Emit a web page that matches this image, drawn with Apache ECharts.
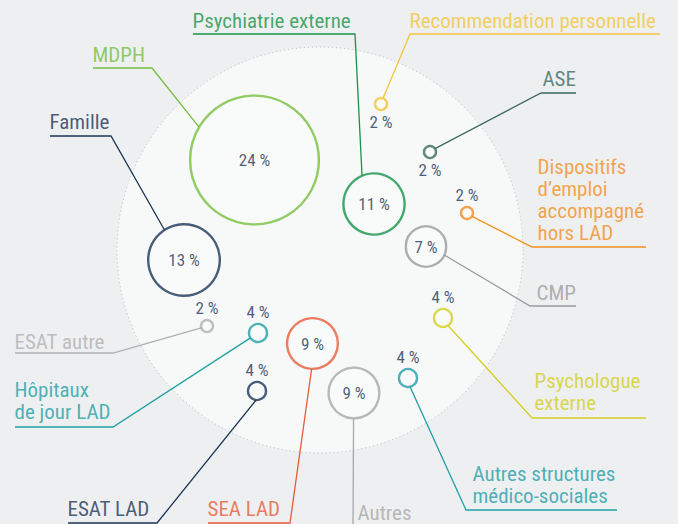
<!DOCTYPE html>
<html><head><meta charset="utf-8">
<script src="https://cdn.jsdelivr.net/npm/echarts@6/dist/echarts.min.js"></script>
<style>html,body{margin:0;padding:0;background:#eeeff1;}#c{width:678px;height:524px;}</style>
</head><body><div id="c"></div>
<script>
// ---- data ----
const categories = ['MDPH', 'Famille', 'Psychiatrie externe', 'CMP', 'Recommendation personnelle', 'ASE',
  'Dispositifs\nd’emploi\naccompagné\nhors LAD', 'ESAT autre', 'Hôpitaux\nde jour LAD', 'ESAT LAD', 'SEA LAD',
  'Autres', 'Psychologue\nexterne', 'Autres structures\nmédico-sociales'];
const values = [24, 13, 11, 7, 2, 2, 2, 2, 4, 4, 9, 9, 4, 4];

// ---- layout (packed-bubble placement, annotation geometry) ----
const bubbleX = [254.5, 184, 374, 426, 381, 430, 467, 207, 258, 257, 312.5, 354, 443, 408];
const bubbleY = [160, 260, 204, 246.5, 104, 152, 213, 326, 333, 391, 343.5, 393, 318, 378];
const pctPos = ['inside','inside','inside','inside','bottom','bottom','top','top','top','top','inside','inside','top','top'];
const textX = [93, 50, 193, 537, 410, 543, 538, 15, 15, 68, 208, 358, 535, 473];
const textBase = [62, 129, 28, 300, 28, 86, 240, 349, 419, 516, 516, 520, 410, 503];
const lineY = [68, 136, 34, 306, 34, 93, 247, 353, 427, 523, 523, 532, 418, 510];
const lineX0 = [93, 50, 193, 530, 410, 541, 532, 15, 15, 68, 208, 353, 532, 466];
const lineX1 = [152, 111, 355, 576, 660, 576, 646, 113, 113, 157, 290, 420, 646, 617];
const cornerLeft = [false, false, false, true, true, true, true, false, false, false, false, true, true, true];
const anchorAngle = [210.6, 237, 247, 25, 290, 326, 34, 163, 147, 95, 92, 91, 56, 77];
const colors = ['#76bf3f', '#1c3656', '#17944a', '#9b9b9b', '#f3c63a', '#3a6b5d', '#f39020', '#b0b0b0',
  '#22a0a3', '#1c3656', '#e85c38', '#a8a8a8', '#d3cf22', '#229ea6'];

const FONT = "'Roboto Condensed','Liberation Sans Narrow','DejaVu Sans Condensed',Roboto,sans-serif";
const sizeOf = v => v > 4 ? 4 + 5.2 * v : 6 + 3 * v;

const bubbleData = values.map((v, i) => ({
  value: [bubbleX[i], bubbleY[i], v],
  symbolSize: sizeOf(v),
  itemStyle: { color: '#f9fafa', borderColor: colors[i], borderWidth: 2.4 },
  label: { position: pctPos[i] }
}));

const lineData = values.map((v, i) => {
  const r = sizeOf(v) / 2;
  const a = anchorAngle[i] * Math.PI / 180;
  const edge = [bubbleX[i] + r * Math.cos(a), bubbleY[i] + r * Math.sin(a)];
  const far = cornerLeft[i] ? lineX1[i] : lineX0[i];
  const corner = cornerLeft[i] ? lineX0[i] : lineX1[i];
  return { coords: [[far, lineY[i]], [corner, lineY[i]], edge], lineStyle: { color: colors[i] } };
});

const nameData = categories.map((c, i) => ({
  value: [textX[i], textBase[i] + 4],
  name: c,
  label: { color: colors[i] }
}));

const chart = echarts.init(document.getElementById('c'), null, { renderer: 'svg' });
chart.setOption({
  backgroundColor: '#eeeff1',
  animation: false,
  grid: { left: 0, right: 0, top: 0, bottom: 0 },
  xAxis: { type: 'value', min: 0, max: 678, show: false },
  yAxis: { type: 'value', min: 0, max: 524, inverse: true, show: false },
  series: [
    {
      type: 'scatter', silent: true, z: 1,
      data: [[320, 250]], symbolSize: 406,
      itemStyle: { color: '#f9fafa', borderColor: '#a9adb2', borderWidth: 1, borderType: [1, 3] }
    },
    {
      type: 'lines', coordinateSystem: 'cartesian2d', polyline: true, silent: true, z: 2,
      lineStyle: { width: 1.3, opacity: 1 },
      data: lineData
    },
    {
      type: 'scatter', z: 3, silent: true,
      data: bubbleData,
      label: {
        show: true, distance: 2, color: '#1c3656', fontFamily: FONT, fontSize: 17,
        formatter: p => p.value[2] + '\u00A0%'
      }
    },
    {
      type: 'scatter', z: 4, silent: true, symbolSize: 1,
      itemStyle: { color: 'rgba(0,0,0,0)' },
      data: nameData,
      label: {
        show: true, position: [0, 0], align: 'left', verticalAlign: 'bottom',
        fontFamily: FONT, fontSize: 21, lineHeight: 22,
        formatter: p => p.name
      }
    }
  ]
});
</script>
</body></html>
